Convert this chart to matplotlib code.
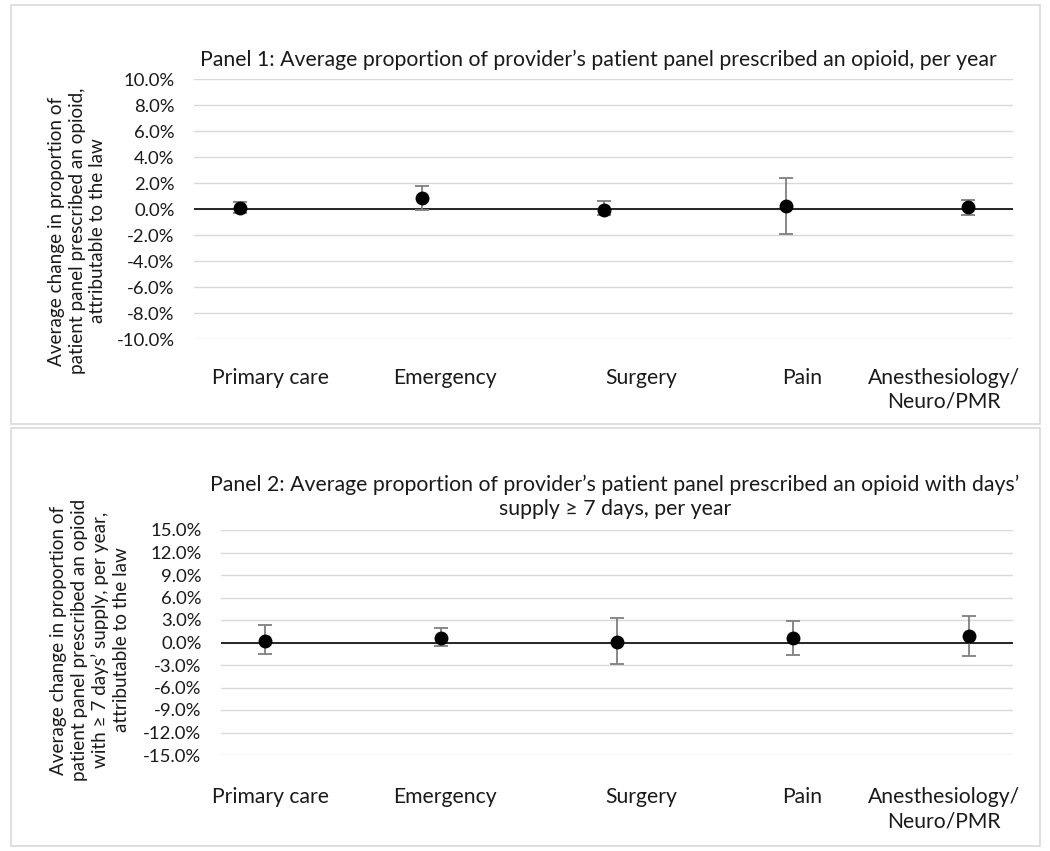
"""Two-panel point + CI chart: change in opioid prescribing attributable to the law, by specialty."""

import matplotlib
matplotlib.use("Agg")
import matplotlib.pyplot as plt
import matplotlib.ticker as mticker
from matplotlib.patches import Rectangle

W, H = 1050, 851

SPECIALTIES = ["Primary care", "Emergency", "Surgery", "Pain", "Anesthesiology/\nNeuro/PMR"]

# panel 1: proportion prescribed an opioid (percent)
P1_EST = [0.10, 0.85, -0.06, 0.22, 0.14]
P1_LOW = [-0.28, -0.08, -0.47, -1.95, -0.44]
P1_HIGH = [0.55, 1.80, 0.60, 2.40, 0.70]
P1_TICKS = [-10, -8, -6, -4, -2, 0, 2, 4, 6, 8, 10]

# panel 2: proportion with days' supply >= 7 (percent)
P2_EST = [0.25, 0.65, 0.05, 0.58, 0.82]
P2_LOW = [-1.56, -0.53, -2.93, -1.73, -1.78]
P2_HIGH = [2.27, 1.87, 3.33, 2.90, 3.47]
P2_TICKS = [-15, -12, -9, -6, -3, 0, 3, 6, 9, 12, 15]

TITLE_1 = "Panel 1: Average proportion of provider\u2019s patient panel prescribed an opioid, per year"
TITLE_2 = ("Panel 2: Average proportion of provider\u2019s patient panel prescribed an opioid with days\u2019\n"
           "supply \u2265 7 days, per year")
YLABEL_1 = "Average change in proportion of\npatient panel prescribed an opioid,\nattributable to the law"
YLABEL_2 = ("Average change in proportion of\npatient panel prescribed an opioid\n"
            "with \u2265 7 days\u2019 supply, per year,\nattributable to the law")

LABEL_X_PX = [270, 445, 641, 802, 944]

plt.rcParams["font.family"] = ["Lato", "DejaVu Sans"]
FS_TITLE = 15.3
FS_CAT = 15.2
FS_TICK = 13.3
FS_YLAB = 13.6
TXT = "#1a1a1a"


def px(x, y):
    return x / W, 1 - y / H


def draw_panel(fig, box, rect, est, low, high, ticks, title, title_xy, ylabel, ylabel_xy, label_y):
    # light panel frame
    bx0, by0, bx1, by1 = box
    fig.patches.append(Rectangle(px(bx0, by1), (bx1 - bx0) / W, (by1 - by0) / H,
                                 transform=fig.transFigure, fill=False,
                                 edgecolor="#d9d9d9", linewidth=1.2))
    l, t, r, b = rect
    ax = fig.add_axes([l / W, 1 - b / H, (r - l) / W, (b - t) / H])
    xs = list(range(1, len(est) + 1))
    err = [[e - lo for e, lo in zip(est, low)], [hi - e for e, hi in zip(est, high)]]
    ax.axhline(0, color="#262626", linewidth=1.4, zorder=2)
    ax.errorbar(xs, est, yerr=err, fmt="o", color="black", markersize=9,
                ecolor="#7f7f7f", elinewidth=1.3, capsize=5, capthick=1.3, zorder=3)
    ax.set_xlim(0.75, len(est) + 0.25)
    ax.set_ylim(ticks[0], ticks[-1])
    ax.set_yticks(ticks)
    ax.yaxis.set_major_formatter(mticker.FuncFormatter(lambda v, _: f"{v:.1f}%"))
    ax.set_xticks([])
    ax.grid(axis="y", color="#d9d9d9", linewidth=1.0, zorder=0)
    ax.tick_params(axis="y", length=0, pad=14, labelsize=FS_TICK, labelcolor=TXT)
    for s in ax.spines.values():
        s.set_visible(False)
    ax.set_axisbelow(True)

    fig.text(*px(*title_xy), title, ha="center", va="center",
             fontsize=FS_TITLE, color=TXT, linespacing=1.25)
    fig.text(*px(*ylabel_xy), ylabel, ha="center", va="center", rotation=90,
             fontsize=FS_YLAB, color=TXT, linespacing=1.25)
    for name, x in zip(SPECIALTIES, LABEL_X_PX):
        fig.text(*px(x, label_y), name, ha="center", va="top", fontsize=FS_CAT,
                 color=TXT, linespacing=1.25)
    return ax


def main():
    fig = plt.figure(figsize=(W / 100, H / 100), dpi=100)
    fig.patch.set_facecolor("white")

    draw_panel(fig, (11, 5, 1040, 424), (194, 79, 1013, 339),
               P1_EST, P1_LOW, P1_HIGH, P1_TICKS, TITLE_1, (598, 60),
               YLABEL_1, (77, 231), 368)
    draw_panel(fig, (11, 428, 1040, 846), (221, 530, 1013, 755),
               P2_EST, P2_LOW, P2_HIGH, P2_TICKS, TITLE_2, (615, 497),
               YLABEL_2, (90, 640), 787)

    fig.savefig("out.png", dpi=100, facecolor="white")
    plt.close(fig)


if __name__ == "__main__":
    main()
